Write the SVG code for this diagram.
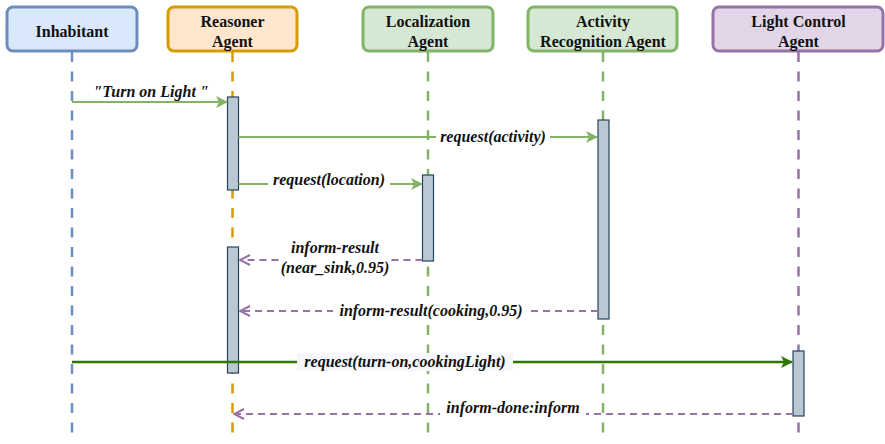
<svg xmlns="http://www.w3.org/2000/svg" width="885" height="444" viewBox="0 0 885 444">
<style>
.box{stroke-width:3}
.title{font-weight:bold;font-size:16px;text-anchor:middle;fill:#111}
.life{fill:none;stroke-width:2.5;stroke-dasharray:10 9.5}
.act{fill:#bac8d3;stroke:#23445d;stroke-width:1.2}
.lbl{font-weight:bold;font-style:italic;font-size:16px;text-anchor:middle;fill:#111}
.req{stroke:#82b366;stroke-width:2;fill:none}
.req2{stroke:#2d7600;stroke-width:2.5;fill:none}
.rep{stroke:#9673a6;stroke-width:2;fill:none;stroke-dasharray:7 5}
</style>
<defs>
<marker id="ag" viewBox="0 0 12 12" refX="11" refY="6" markerWidth="12" markerHeight="12" markerUnits="userSpaceOnUse" orient="auto">
<path d="M0,0 L12,6 L0,12 L3,6 Z" fill="#82b366"/>
</marker>
<marker id="adg" viewBox="0 0 12 12" refX="11" refY="6" markerWidth="12" markerHeight="12" markerUnits="userSpaceOnUse" orient="auto">
<path d="M0,0 L12,6 L0,12 L3,6 Z" fill="#2d7600"/>
</marker>
<marker id="ap" viewBox="0 0 12 12" refX="11" refY="6" markerWidth="12" markerHeight="12" markerUnits="userSpaceOnUse" orient="auto">
<path d="M1,1 L11,6 L1,11" fill="none" stroke="#9673a6" stroke-width="2"/>
</marker>
</defs>
<rect width="885" height="444" fill="#fff"/>

<g id="lifelines">
<line class="life" x1="72" y1="52" x2="72" y2="442" stroke="#6c8ebf"/>
<line class="life" x1="232.5" y1="52" x2="232.5" y2="442" stroke="#d79b00"/>
<line class="life" x1="428" y1="52" x2="428" y2="442" stroke="#82b366"/>
<line class="life" x1="603" y1="52" x2="603" y2="442" stroke="#82b366"/>
<line class="life" x1="798.5" y1="52" x2="798.5" y2="442" stroke="#9673a6"/>
</g>

<g font-family="Liberation Serif, Times New Roman, DejaVu Serif, serif">
<g id="inhabitant">
<rect class="box" x="7" y="7" width="130" height="44" rx="6" fill="#dae8fc" stroke="#6c8ebf"/>
<text class="title" x="72" y="37">Inhabitant</text>
</g>
<g id="reasoner">
<rect class="box" x="168" y="7" width="129" height="44" rx="6" fill="#ffe6cc" stroke="#d79b00"/>
<text class="title" x="232.5" y="27">Reasoner</text>
<text class="title" x="232.5" y="47">Agent</text>
</g>
<g id="localization">
<rect class="box" x="363" y="7" width="130" height="44" rx="6" fill="#d5e8d4" stroke="#82b366"/>
<text class="title" x="428" y="27">Localization</text>
<text class="title" x="428" y="47">Agent</text>
</g>
<g id="activity">
<rect class="box" x="528" y="7" width="149" height="44" rx="6" fill="#d5e8d4" stroke="#82b366"/>
<text class="title" x="603" y="27">Activity</text>
<text class="title" x="603" y="47">Recognition Agent</text>
</g>
<g id="lightcontrol">
<rect class="box" x="713" y="7" width="170" height="44" rx="6" fill="#e1d5e7" stroke="#9673a6"/>
<text class="title" x="798.5" y="27">Light Control</text>
<text class="title" x="798.5" y="47">Agent</text>
</g>

<g id="activations">
<rect class="act" x="227.5" y="97" width="11" height="93"/>
<rect class="act" x="422.5" y="175" width="11" height="86"/>
<rect class="act" x="598" y="120" width="11" height="199"/>
<rect class="act" x="227.5" y="247" width="11" height="126"/>
<rect class="act" x="793" y="351" width="11" height="65"/>
</g>

<g id="connectors">
<line class="req" x1="72" y1="102" x2="227" y2="102" marker-end="url(#ag)"/>
<text class="lbl" x="151" y="97">"Turn on Light "</text>

<line class="req" x1="238.5" y1="137" x2="597" y2="137" marker-end="url(#ag)"/>
<rect x="436" y="128" width="114" height="17" fill="#fff"/>
<text class="lbl" x="493" y="142">request(activity)</text>

<line class="req" x1="238.5" y1="184" x2="422" y2="184" marker-end="url(#ag)"/>
<rect x="268" y="175" width="122" height="17" fill="#fff"/>
<text class="lbl" x="329" y="185">request(location)</text>

<line class="rep" x1="422.5" y1="260" x2="240" y2="260" marker-end="url(#ap)"/>
<rect x="283" y="238" width="104" height="40" fill="#fff"/>
<text class="lbl" x="335" y="253">inform-result</text>
<text class="lbl" x="335" y="273">(near_sink,0.95)</text>

<line class="rep" x1="598" y1="311" x2="240" y2="311" marker-end="url(#ap)"/>
<rect x="333" y="301" width="196" height="18" fill="#fff"/>
<text class="lbl" x="431" y="316">inform-result(cooking,0.95)</text>

<line class="req2" x1="72" y1="362" x2="792" y2="362" marker-end="url(#adg)"/>
<rect x="297" y="353" width="216" height="18" fill="#f5f7fa"/>
<text class="lbl" x="405" y="367">request(turn-on,cookingLight)</text>

<line class="rep" x1="793" y1="414" x2="234" y2="414" marker-end="url(#ap)"/>
<rect x="440" y="400" width="146" height="18" fill="#fff"/>
<text class="lbl" x="513" y="413">inform-done:inform</text>
</g>
</g>
</svg>
